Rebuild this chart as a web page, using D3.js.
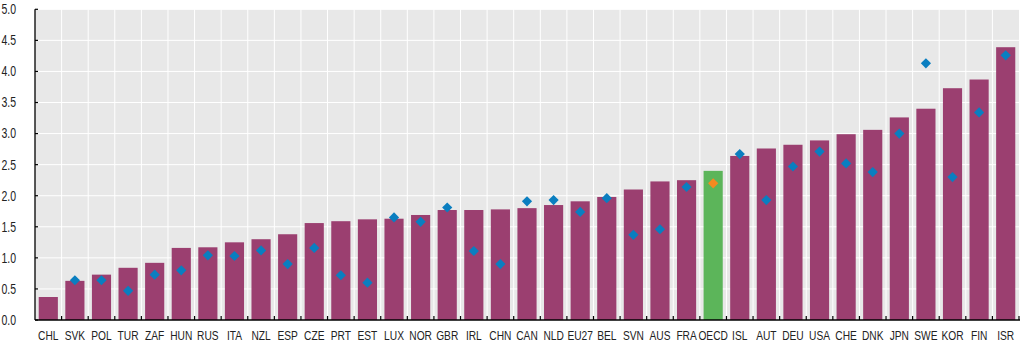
<!DOCTYPE html>
<html><head><meta charset="utf-8">
<script src="https://cdn.jsdelivr.net/npm/d3@7"></script>
<style>
html,body{margin:0;padding:0;background:#fff;}
svg{display:block;}
</style></head>
<body>
<svg id="chart" width="1024" height="355"></svg>
<script>
const categories = ["CHL","SVK","POL","TUR","ZAF","HUN","RUS","ITA","NZL","ESP","CZE","PRT","EST","LUX","NOR","GBR","IRL","CHN","CAN","NLD","EU27","BEL","SVN","AUS","FRA","OECD","ISL","AUT","DEU","USA","CHE","DNK","JPN","SWE","KOR","FIN","ISR"];
const barValues = [0.37,0.63,0.73,0.84,0.92,1.16,1.17,1.25,1.30,1.38,1.56,1.59,1.62,1.63,1.69,1.77,1.77,1.78,1.80,1.85,1.91,1.98,2.10,2.23,2.25,2.40,2.64,2.76,2.82,2.89,2.99,3.06,3.26,3.40,3.73,3.87,4.39];
const markerValues = [null,0.64,0.64,0.47,0.73,0.80,1.04,1.03,1.12,0.90,1.16,0.72,0.60,1.65,1.58,1.81,1.11,0.90,1.91,1.93,1.74,1.96,1.37,1.46,2.14,2.20,2.67,1.93,2.47,2.71,2.52,2.38,3.00,4.13,2.30,3.34,4.26];
const yTicks = [0,0.5,1,1.5,2,2.5,3,3.5,4,4.5,5];
const highlight = "OECD";

const svg = d3.select("#chart");
const m = {left:35, right:1019, top:9.3, bottom:320};
const x = d3.scaleBand().domain(categories).range([m.left, m.right]).paddingInner(0.28).paddingOuter(0.14);
const y = d3.scaleLinear().domain([0,5]).range([m.bottom, m.top]);

svg.append("rect").attr("x", m.left).attr("y", m.top).attr("width", m.right - m.left).attr("height", m.bottom - m.top).attr("fill", "#e8e8e8");

// horizontal grid
svg.append("g").selectAll("line").data(yTicks.slice(1)).join("line")
  .attr("x1", m.left).attr("x2", m.right).attr("y1", d => y(d)).attr("y2", d => y(d))
  .attr("stroke", "#fff").attr("stroke-width", 1);
// vertical grid at band boundaries
const step = x.step();
const bounds = categories.slice(1).map(c => x(c) - step * x.paddingInner() / 2);
svg.append("g").selectAll("line").data(bounds).join("line")
  .attr("x1", d => d).attr("x2", d => d).attr("y1", m.top).attr("y2", m.bottom)
  .attr("stroke", "#fff").attr("stroke-width", 1);

// bars
svg.append("g").selectAll("rect").data(categories).join("rect")
  .attr("x", d => x(d)).attr("width", x.bandwidth())
  .attr("y", (d,i) => y(barValues[i])).attr("height", (d,i) => y(0) - y(barValues[i]))
  .attr("fill", d => d === highlight ? "#5cb55a" : "#9b3f70");

// markers
const sq = d3.symbol().type(d3.symbolSquare).size(52);
svg.append("g").selectAll("path").data(categories.map((c,i) => ({c, v: markerValues[i]})).filter(d => d.v != null)).join("path")
  .attr("d", sq)
  .attr("transform", d => `translate(${x(d.c) + x.bandwidth()/2},${y(d.v)}) rotate(45)`)
  .attr("fill", d => d.c === highlight ? "#f58a1f" : "#0a7ec0");

// axes
svg.append("line").attr("x1", m.left).attr("x2", m.left).attr("y1", m.top).attr("y2", m.bottom).attr("stroke", "#000").attr("stroke-width", 1.3);
svg.append("line").attr("x1", m.left).attr("x2", m.right + 1).attr("y1", m.bottom).attr("y2", m.bottom).attr("stroke", "#000").attr("stroke-width", 1.3);
svg.append("g").selectAll("line").data(yTicks).join("line")
  .attr("x1", m.left).attr("x2", m.left + 3).attr("y1", d => y(d)).attr("y2", d => y(d)).attr("stroke", "#000").attr("stroke-width", 1.2);
svg.append("g").selectAll("line").data(bounds.concat([m.right])).join("line")
  .attr("x1", d => d).attr("x2", d => d).attr("y1", m.bottom).attr("y2", m.bottom - 4).attr("stroke", "#000").attr("stroke-width", 1.2);

// y labels
svg.append("g").selectAll("g").data(yTicks).join("g")
  .attr("transform", d => `translate(16,${y(d)}) scale(0.75,1)`)
  .append("text")
  .attr("x", 0).attr("y", 0).attr("dy", "0.35em")
  .attr("text-anchor", "end")
  .style("font-family", "'Liberation Sans', Arial, sans-serif")
  .style("font-size", "14px").attr("fill", "#222")
  .text(d => d.toFixed(1));

// x labels
svg.append("g").selectAll("g").data(categories).join("g")
  .attr("transform", d => `translate(${x(d) + x.bandwidth()/2},340) scale(0.85,1)`)
  .append("text")
  .attr("text-anchor", "middle")
  .style("font-family", "'Liberation Sans', Arial, sans-serif")
  .style("font-size", "12px").attr("fill", "#222")
  .text(d => d);
</script>
</body></html>
